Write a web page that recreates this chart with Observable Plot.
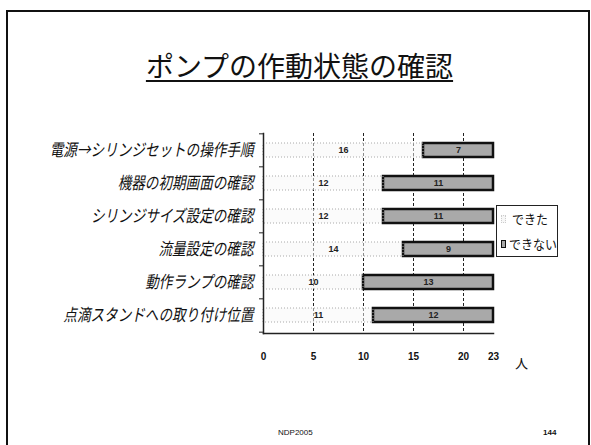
<!DOCTYPE html>
<html><head><meta charset="utf-8">
<script src="https://cdn.jsdelivr.net/npm/d3@7"></script>
<script src="https://cdn.jsdelivr.net/npm/@observablehq/plot@0.6"></script>
<style>
body{margin:0;background:#fff;}
#slide{position:relative;width:591px;height:445px;overflow:hidden;background:#fff;font-family:"Noto Sans CJK JP",sans-serif;color:#111;}
#frame{position:absolute;left:6px;top:10px;width:584px;height:460px;border:2px solid #111;box-sizing:border-box;}
#title{position:absolute;left:4px;width:591px;top:48px;text-align:center;font-size:28px;line-height:34px;text-decoration:underline;text-underline-offset:3px;text-decoration-thickness:2px;}
#chart{position:absolute;left:0;top:0;}
#legend{position:absolute;left:496px;top:205px;width:62px;height:52px;border:1px solid #222;box-sizing:border-box;background:#fff;font-size:13px;line-height:13px;}
#legend .row{position:absolute;left:4px;display:flex;align-items:center;white-space:nowrap;}
#legend .sw{width:5px;height:8px;margin-right:3px;box-sizing:border-box;flex:none;}
#legend .lab{display:inline-block;transform:scaleX(0.92);transform-origin:left center;}
#unit{position:absolute;left:515px;top:353px;font-size:13px;}
.foot{position:absolute;top:428px;font-family:"Liberation Sans",Arial,sans-serif;font-size:8px;}
</style></head>
<body>
<div id="slide">
  <div id="frame"></div>
  <div id="title"></div>
  <div id="chart"></div>
  <div id="legend"></div>
  <div id="unit"></div>
  <div class="foot" id="footL" style="left:278px;"></div>
  <div class="foot" id="footR" style="left:543px;font-weight:bold;"></div>
</div>
<script>
const titleText = "ポンプの作動状態の確認";
const categories = ["電源→シリンジセットの操作手順","機器の初期画面の確認","シリンジサイズ設定の確認","流量設定の確認","動作ランプの確認","点滴スタンドへの取り付け位置"];
const done = [16,12,12,14,10,11];
const notDone = [7,11,11,9,13,12];
const series = ["できた","できない"];
const seriesColors = ["#f7f7f7","#a9a9a9"];
const xTicks = [0,5,10,15,20,23];
const gridTicks = [5,10,15,20];
const unitLabel = "人";
const footLeft = "NDP2005";
const footRight = "144";

const rows = categories.flatMap((c,i)=>[
  {cat:c,status:series[0],value:done[i]},
  {cat:c,status:series[1],value:notDone[i]}
]);

document.getElementById("title").textContent = titleText;
document.getElementById("unit").textContent = unitLabel;
document.getElementById("footL").textContent = footLeft;
document.getElementById("footR").textContent = footRight;

const lg = document.getElementById("legend");
series.forEach((s,i)=>{
  const r = document.createElement("div");
  r.className="row"; r.style.top = (i===0?6:31)+"px";
  if (i===0) r.style.left = "15px";
  const sw = document.createElement("div"); sw.className="sw";
  sw.style.background = seriesColors[i];
  sw.style.border = i===0 ? "1px dotted #ccc" : "1.5px solid #111";
  if (i===0) { sw.style.position="absolute"; sw.style.left="-11px"; }
  const t = document.createElement("span"); t.className="lab"; t.textContent = s;
  r.appendChild(sw); r.appendChild(t); lg.appendChild(r);
});

const W=591,H=445,mL=263,mR=98,mT=133,mB=112;
const step=(H-mT-mB)/categories.length;
const chart = Plot.plot({
  width:W,height:H,marginLeft:mL,marginRight:mR,marginTop:mT,marginBottom:mB,
  style:{background:"transparent",overflow:"visible",fontFamily:"'Noto Sans CJK JP',sans-serif",color:"#111"},
  x:{domain:[0,23],ticks:xTicks,label:null},
  y:{domain:categories,paddingInner:0.57,paddingOuter:0.285,label:null},
  color:{domain:series,range:seriesColors},
  marks:[
    Plot.ruleX(gridTicks,{stroke:"#222",strokeDasharray:"3,2",strokeWidth:1}),
    Plot.barX(rows,Plot.stackX({x:"value",y:"cat",fill:"status",
      fillOpacity:d=>d.status===series[0]?0.5:1,
      stroke:d=>d.status===series[1]?"#111":"none",strokeWidth:2.5})),
    Plot.barX(rows,Plot.stackX({x:"value",y:"cat",fill:"none",
      stroke:d=>d.status===series[0]?"#aaa":"none",strokeWidth:1,strokeDasharray:"1,2"})),
    Plot.text(rows,Plot.stackX({x:"value",y:"cat",text:"value",fill:"#222",fontSize:9,fontWeight:"bold",
      fontFamily:"'Liberation Sans Narrow','Arial Narrow',sans-serif"})),
    Plot.ruleY(categories,{y:d=>d,x1:-0.4,x2:0,dy:-step/2,stroke:"#222"}),
    Plot.ruleY(categories.slice(-1),{y:d=>d,x1:-0.4,x2:0,dy:step/2,stroke:"#222"}),
    Plot.frame({anchor:"left",stroke:"#222",strokeWidth:1.5}),
    Plot.frame({anchor:"bottom",stroke:"#222",strokeWidth:1.5}),
    Plot.axisX({ticks:xTicks,tickSize:0,tickPadding:19,fontSize:10,fontWeight:"bold",
      fontFamily:"'Liberation Sans Narrow','Arial Narrow',sans-serif",label:null}),
    Plot.axisY({tickSize:0,tickPadding:10,fontSize:17,fontStyle:"italic",label:null})
  ]
});
document.getElementById("chart").appendChild(chart);
// horizontally condense the y-axis labels like the original narrow font
chart.querySelectorAll('g[aria-label="y-axis tick label"] text').forEach(t=>{
  const tr = t.getAttribute("transform");
  if (tr) t.setAttribute("transform", tr+" scale(0.8,1)");
  else {
    const x=+t.getAttribute("x")||0, y=+t.getAttribute("y")||0;
    t.setAttribute("x",0); t.setAttribute("y",0);
    t.setAttribute("transform",`translate(${x},${y}) scale(0.8,1)`);
  }
});
</script>
</body></html>
